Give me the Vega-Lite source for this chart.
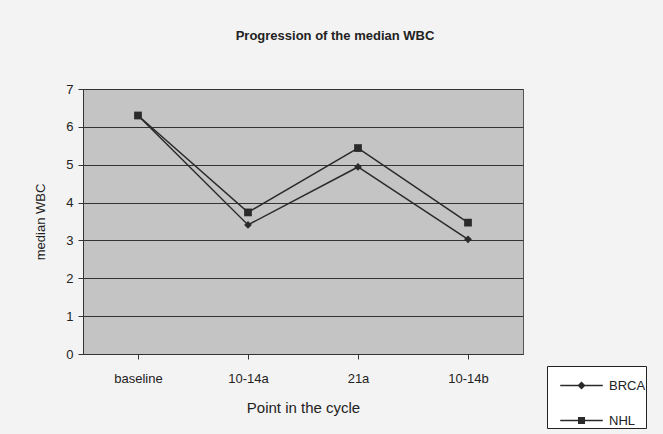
{
  "$schema": "https://vega.github.io/schema/vega-lite/v6.json",
  "autosize": {"type": "none"},
  "width": 440,
  "height": 265,
  "padding": {"left": 83, "top": 89, "right": 140, "bottom": 80},
  "background": "#f3f3f3",
  "config": {
    "font": "Liberation Sans",
    "view": {"fill": "#c4c4c4", "stroke": "#555", "strokeWidth": 1}
  },
  "title": {
    "text": "Progression of the median WBC",
    "fontSize": 13,
    "fontWeight": "bold",
    "color": "#222",
    "anchor": "middle",
    "frame": "group",
    "dx": 32,
    "offset": 40
  },
  "data": {
    "values": [
      {"point": "baseline", "series": "BRCA", "wbc": 6.3},
      {"point": "10-14a", "series": "BRCA", "wbc": 3.41},
      {"point": "21a", "series": "BRCA", "wbc": 4.94},
      {"point": "10-14b", "series": "BRCA", "wbc": 3.03},
      {"point": "baseline", "series": "NHL", "wbc": 6.3},
      {"point": "10-14a", "series": "NHL", "wbc": 3.74},
      {"point": "21a", "series": "NHL", "wbc": 5.44},
      {"point": "10-14b", "series": "NHL", "wbc": 3.47}
    ]
  },
  "encoding": {
    "x": {
      "field": "point",
      "type": "nominal",
      "sort": ["baseline", "10-14a", "21a", "10-14b"],
      "scale": {"paddingInner": 0, "paddingOuter": 0},
      "axis": {
        "title": "Point in the cycle",
        "titleFontSize": 15,
        "titleFontWeight": "normal",
        "titleColor": "#222",
        "titlePadding": 15,
        "labelAngle": 0,
        "labelFontSize": 13,
        "labelColor": "#222",
        "labelPadding": 13,
        "domainColor": "#333",
        "tickColor": "#333",
        "tickSize": 5,
        "grid": false
      }
    },
    "y": {
      "field": "wbc",
      "type": "quantitative",
      "scale": {"domain": [0, 7], "nice": false},
      "axis": {
        "title": "median WBC",
        "titleFontSize": 13,
        "titleFontWeight": "normal",
        "titleColor": "#222",
        "titlePadding": 18,
        "values": [0, 1, 2, 3, 4, 5, 6, 7],
        "labelFontSize": 13,
        "labelColor": "#222",
        "labelPadding": 5,
        "domainColor": "#333",
        "tickColor": "#333",
        "tickSize": 5,
        "grid": true,
        "gridColor": "#333",
        "gridWidth": 1.1,
        "gridOpacity": 1
      }
    }
  },
  "resolve": {"scale": {"shape": "independent"}, "legend": {"shape": "independent"}},
  "layer": [
    {
      "mark": {"type": "line", "color": "#2a2a2a", "strokeWidth": 1.5},
      "encoding": {"detail": {"field": "series"}}
    },
    {
      "mark": {"type": "point", "filled": true, "opacity": 1, "color": "#2a2a2a", "size": 60},
      "encoding": {
        "shape": {
          "field": "series",
          "type": "nominal",
          "scale": {"domain": ["BRCA", "NHL"], "range": ["diamond", "square"]},
          "legend": null
        }
      }
    },
    {
      "transform": [{"filter": "datum.series === 'none'"}],
      "mark": {"type": "point", "filled": true, "opacity": 1, "color": "#2a2a2a"},
      "encoding": {
        "shape": {
          "field": "series",
          "type": "nominal",
          "scale": {
            "domain": ["BRCA", "NHL"],
            "range": [
              "M-1.15,-0.036L1.15,-0.036L1.15,0.036L-1.15,0.036Z M0,-0.22L0.22,0L0,0.22L-0.22,0Z",
              "M-1.15,-0.036L1.15,-0.036L1.15,0.036L-1.15,0.036Z M-0.19,-0.19L0.19,-0.19L0.19,0.19L-0.19,0.19Z"
            ]
          },
          "legend": {
            "title": null,
            "orient": "none",
            "legendX": 464,
            "legendY": 277,
            "padding": 0,
            "symbolOffset": 15,
            "fillColor": "#ffffff",
            "strokeColor": "#222",
            "symbolSize": 1369,
            "symbolFillColor": "#2a2a2a",
            "labelFontSize": 13,
            "labelColor": "#222",
            "labelOffset": 8,
            "rowPadding": 8
          }
        }
      }
    }
  ]
}
